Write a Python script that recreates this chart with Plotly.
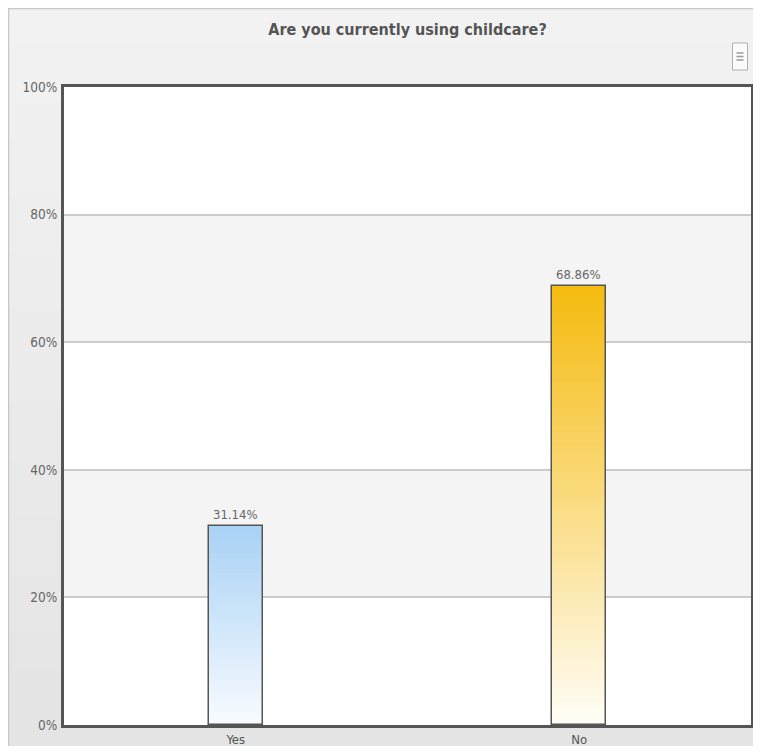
import plotly.graph_objects as go

# ---- data ----
categories = ["Yes", "No"]
values = [31.14, 68.86]
value_labels = ["31.14%", "68.86%"]
tick_vals = [0, 20, 40, 60, 80, 100]
tick_labels = ["0%", "20%", "40%", "60%", "80%", "100%"]
title_text = "Are you currently using childcare?"

# ---- style / geometry ----
VW, VH = 761, 754          # browser window
OFF = 8                    # default body margin of the html page
DX, DY = 1.5, 1            # fine alignment correction
W, H = VW - 2 * OFF, VH - 2 * OFF
# plot area in window pixels (from the reference)
PL, PR, PT, PB = 62, 752, 86, 724
ML = PL - OFF + DX
MR = max(2, W - (PR - OFF + DX))
MT = PT - OFF + DY
MB = H - (PB - OFF + DY)
FONT = "DejaVu Sans Condensed, Liberation Sans Narrow, DejaVu Sans, sans-serif"
top_colors = [(169, 210, 245), (245, 187, 16)]
bottom_colors = [(248, 251, 255), (255, 253, 246)]
N = 60
BAR_W = 0.157


def mix(c1, c2, t):
    return "rgb(%d,%d,%d)" % tuple(round(a + (b - a) * t) for a, b in zip(c1, c2))


fig = go.Figure()

# gradient bars: tallest (top colour) first, shorter lighter layers on top
for i in range(N):
    frac = (N - i) / N
    t = i / (N - 1)
    fig.add_trace(go.Bar(
        x=categories,
        y=[v * frac for v in values],
        width=BAR_W,
        marker=dict(color=[mix(top_colors[k], bottom_colors[k], t) for k in range(len(categories))],
                    line=dict(width=0)),
        hoverinfo="skip",
        showlegend=False,
    ))

# outline + labels
fig.add_trace(go.Bar(
    x=categories,
    y=values,
    width=BAR_W,
    text=value_labels,
    textposition="outside",
    cliponaxis=False,
    textfont=dict(family=FONT, size=13, color="#666666"),
    marker=dict(color="rgba(0,0,0,0)", line=dict(color="#555555", width=1.5)),
    showlegend=False,
    hovertemplate="%{x}: %{text}<extra></extra>",
))

# window px -> paper helpers (actual plot-area extents in window px)
x_left = ML + OFF - DX
x_right = (W - MR) + OFF - DX
y_top = MT + OFF - DY
y_bot = (H - MB) + OFF - DY
def px_x(p):
    return (p - x_left) / (x_right - x_left)
def px_y(p):
    return (y_bot - p) / (y_bot - y_top)

shapes = []
# outer background gradient
bg_top, bg_bot = (242, 242, 242), (228, 228, 228)
S = 40
y_top_px, y_bot_px = 4, VH + 10
for s in range(S):
    a = y_top_px + (y_bot_px - y_top_px) * s / S
    b = y_top_px + (y_bot_px - y_top_px) * (s + 1) / S + 1
    shapes.append(dict(type="rect", xref="paper", yref="paper", layer="below",
                       x0=px_x(5), x1=px_x(VW + 10), y0=px_y(a), y1=px_y(b),
                       fillcolor=mix(bg_top, bg_bot, s / (S - 1)), line=dict(width=0)))
shapes.append(dict(type="rect", xref="paper", yref="paper", layer="below",
                   x0=px_x(6.5), x1=px_x(VW + 10), y0=px_y(7.5), y1=px_y(VH + 10),
                   fillcolor="rgba(0,0,0,0)", line=dict(color="#c8c8c8", width=1.5)))
# plot area white background
shapes.append(dict(type="rect", xref="paper", yref="paper", layer="below",
                   x0=0, x1=1, y0=0, y1=1, fillcolor="white", line=dict(width=0)))
# alternating bands
for j in range(len(tick_vals) - 1):
    if j % 2 == 1:
        shapes.append(dict(type="rect", xref="paper", yref="y", layer="below",
                           x0=0, x1=1, y0=tick_vals[j], y1=tick_vals[j + 1],
                           fillcolor="#f4f4f4", line=dict(width=0)))
# menu button
shapes.append(dict(type="rect", xref="paper", yref="paper", layer="above",
                   x0=px_x(731), x1=px_x(746), y0=px_y(69), y1=px_y(42),
                   fillcolor="#fbfbfb", line=dict(color="#b0b0b0", width=1)))
for yy in (52, 55.5, 59):
    shapes.append(dict(type="line", xref="paper", yref="paper", layer="above",
                       x0=px_x(735), x1=px_x(742), y0=px_y(yy), y1=px_y(yy),
                       line=dict(color="#9a9a9a", width=1.5)))

fig.update_layout(
    width=W, height=H,
    margin=dict(l=ML, r=MR, t=MT, b=MB, autoexpand=False),
    paper_bgcolor="white",
    plot_bgcolor="rgba(0,0,0,0)",
    barmode="overlay",
    bargap=0,
    shapes=shapes,
    title=dict(text="<b>" + title_text + "</b>", x=0.5, xref="paper", xanchor="center",
               y=1 - (28 - OFF + DY) / H, yref="container", yanchor="middle",
               font=dict(family=FONT, size=16, color="#555555")),
    font=dict(family=FONT),
    xaxis=dict(
        type="category", categoryorder="array", categoryarray=categories,
        showgrid=False, showline=True, linecolor="#555555", linewidth=3, mirror=True,
        ticks="", ticklabelstandoff=0, automargin=False,
        tickfont=dict(family=FONT, size=13, color="#555555"),
        fixedrange=True,
    ),
    yaxis=dict(
        range=[0, 100], tickvals=tick_vals, ticktext=tick_labels,
        showgrid=True, gridcolor="#cccccc", gridwidth=1.5,
        showline=True, linecolor="#555555", linewidth=3, mirror=True,
        zeroline=False, ticks="", ticklabelstandoff=1, automargin=False,
        tickfont=dict(family=FONT, size=13.5, color="#666666"),
        fixedrange=True,
    ),
)

fig.write_html("out.html", config={"displayModeBar": False})
